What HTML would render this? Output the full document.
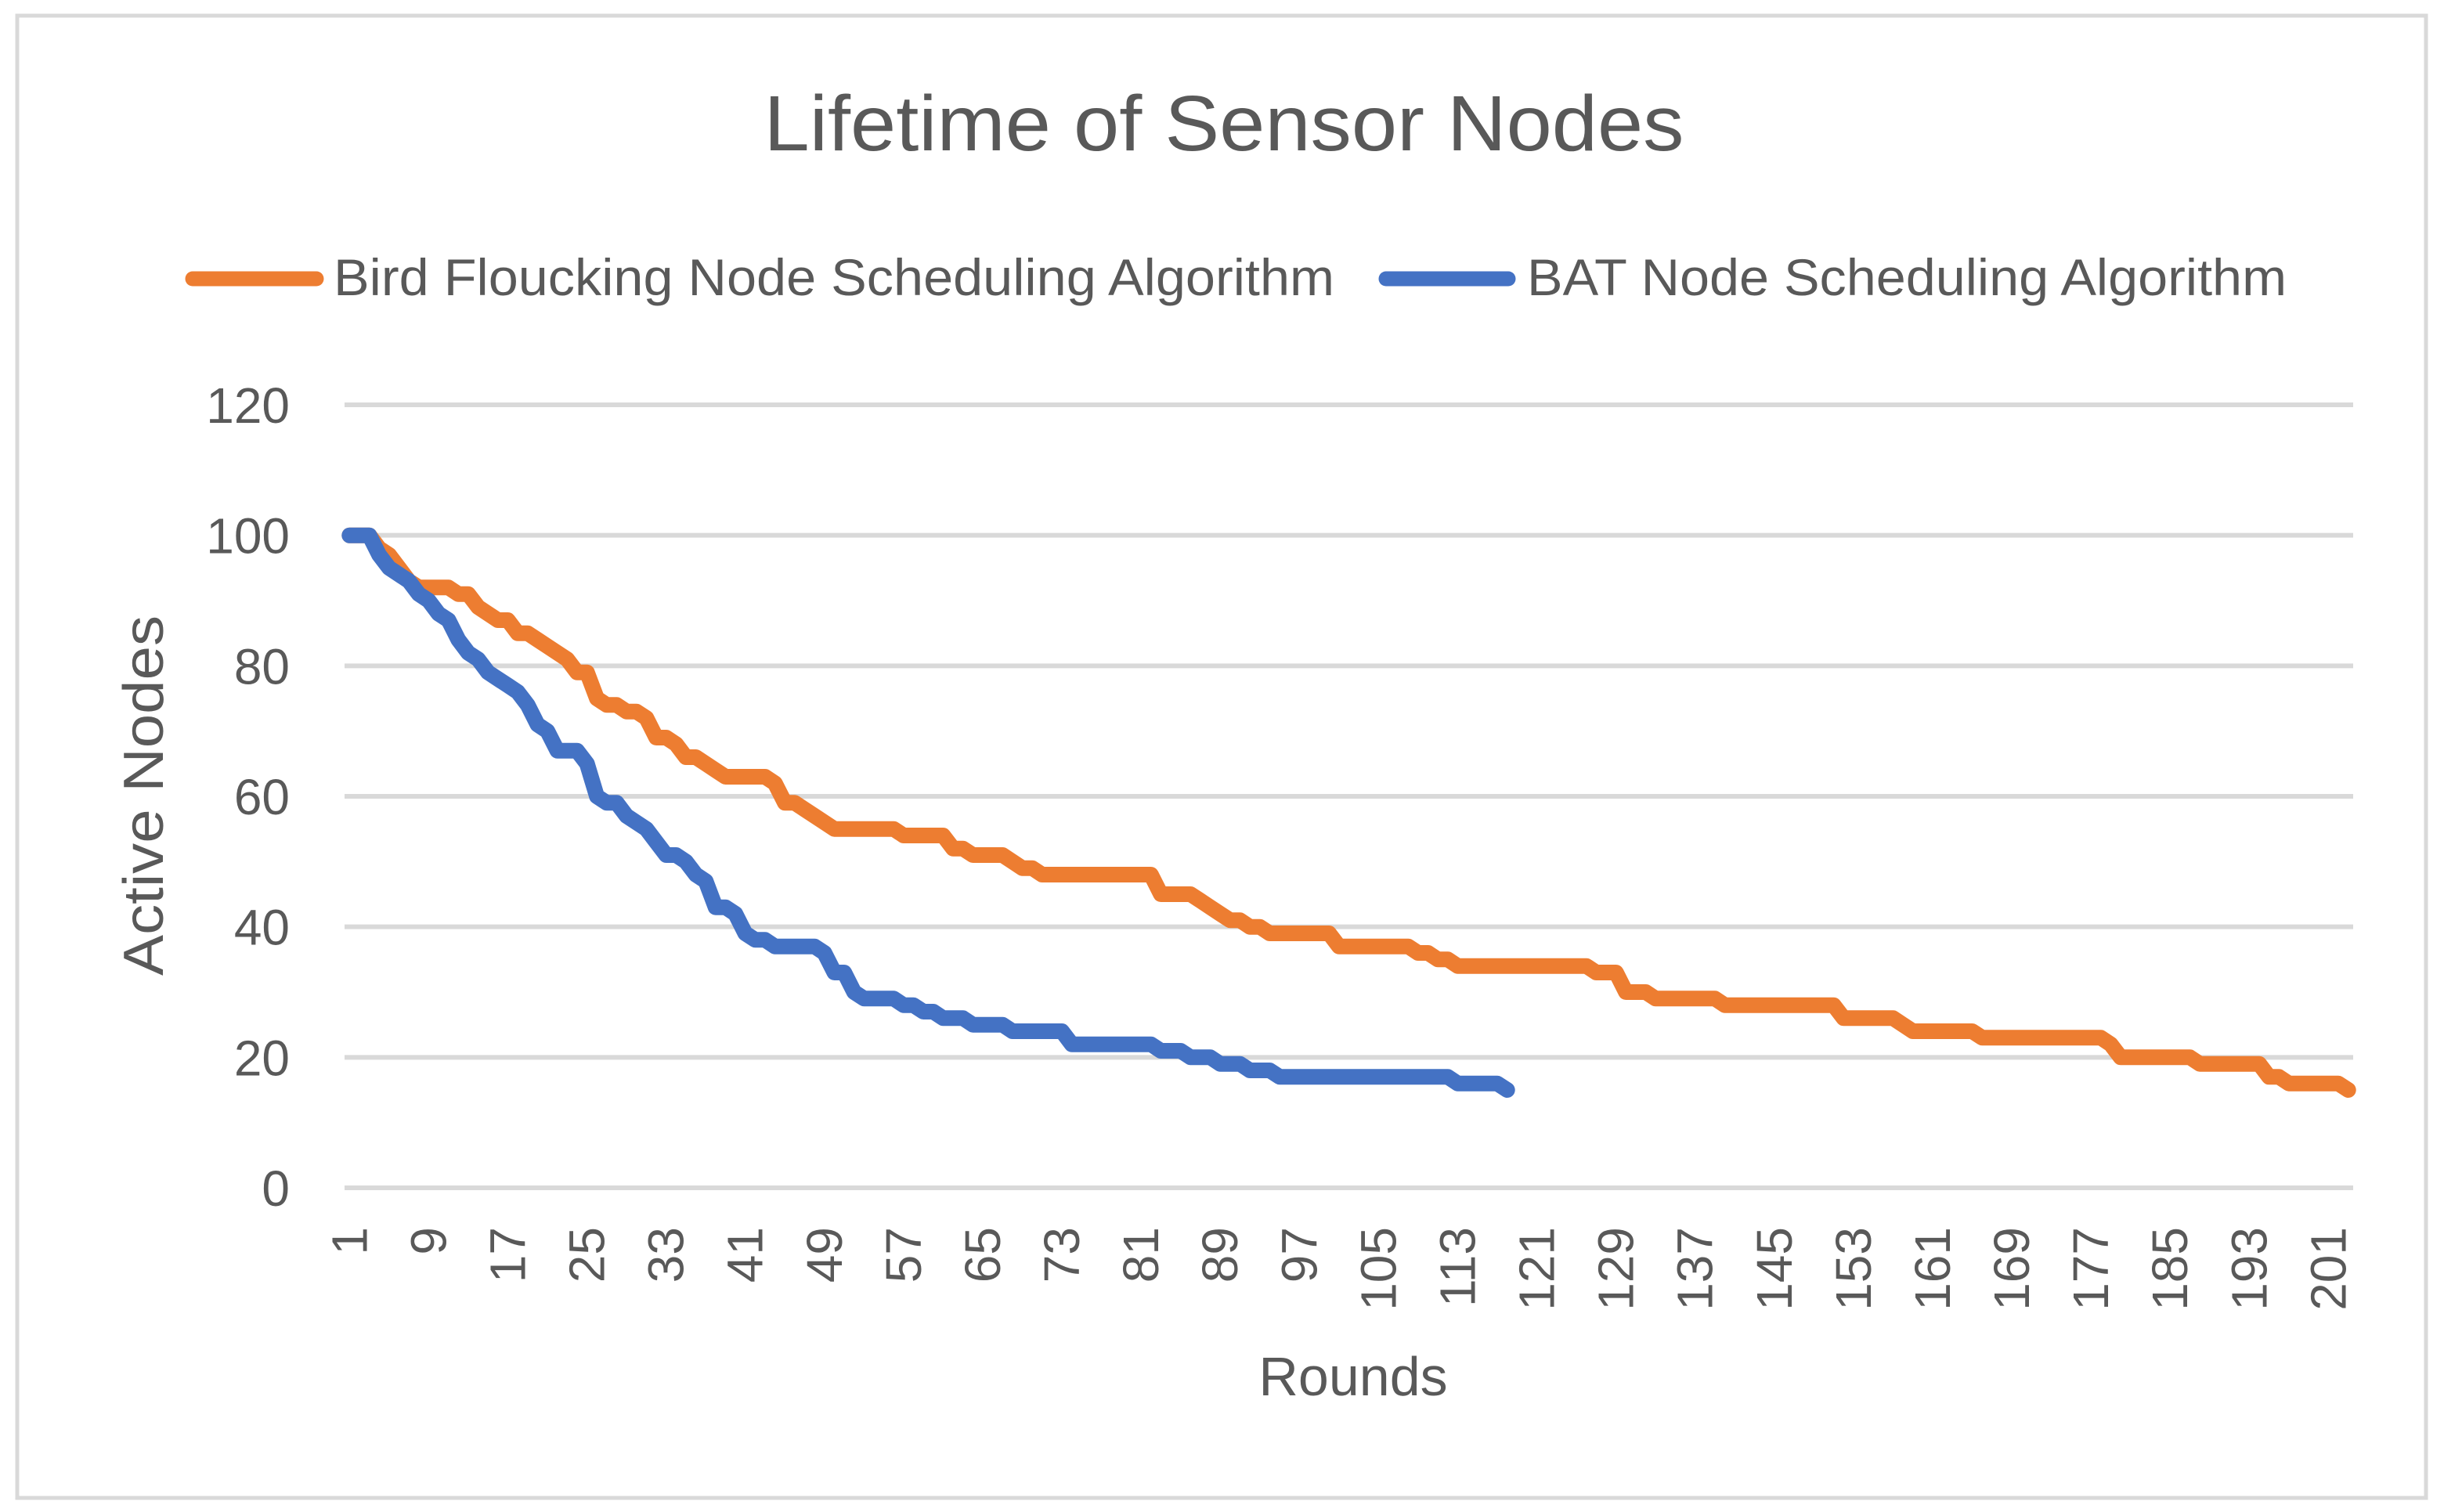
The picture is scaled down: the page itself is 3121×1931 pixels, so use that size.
<!DOCTYPE html>
<html><head><meta charset="utf-8"><style>
html,body{margin:0;padding:0;background:#fff;}
svg{display:block;font-family:"Liberation Sans",sans-serif;}
</style></head><body>
<svg id="chart" width="3121" height="1931" viewBox="0 0 3121 1931" xmlns="http://www.w3.org/2000/svg">
<rect x="22" y="20" width="3076" height="1893" fill="#fff" stroke="#d9d9d9" stroke-width="5"/>
<text x="1563" y="192" font-size="100" fill="#595959" text-anchor="middle" textLength="1175" lengthAdjust="spacingAndGlyphs">Lifetime of Sensor Nodes</text>
<g>
<g>
<line x1="246" y1="356" x2="404" y2="356" stroke="#ed7d31" stroke-width="19" stroke-linecap="round"/>
<text x="426" y="377" font-size="66" fill="#595959" textLength="1278" lengthAdjust="spacingAndGlyphs">Bird Floucking Node Scheduling Algorithm</text>
</g>
<g>
<line x1="1770" y1="356" x2="1926" y2="356" stroke="#4472c4" stroke-width="19" stroke-linecap="round"/>
<text x="1950" y="377" font-size="66" fill="#595959" textLength="970" lengthAdjust="spacingAndGlyphs">BAT Node Scheduling Algorithm</text>
</g>
</g>
<g id="grid"></g>
<g id="yticks"></g>
<g id="xticks"></g>
<g id="series"></g>
<text transform="translate(208,1016) rotate(-90)" font-size="72" fill="#595959" text-anchor="middle" textLength="460" lengthAdjust="spacingAndGlyphs">Active Nodes</text>
<text x="1728" y="1782" font-size="70" fill="#595959" text-anchor="middle">Rounds</text>
</svg>
<script>
const yTicks = [0,20,40,60,80,100,120];
const birdValues = [100,100,100,98,97,95,93,92,92,92,92,91,91,89,88,87,87,85,85,84,83,82,81,79,79,75,74,74,73,73,72,69,69,68,66,66,65,64,63,63,63,63,63,62,59,59,58,57,56,55,55,55,55,55,55,55,54,54,54,54,54,52,52,51,51,51,51,50,49,49,
48,48,48,48,48,48,48,48,48,48,48,48,45,45,45,45,44,43,42,41,41,40,40,39,39,39,39,39,39,39,37,37,37,37,37,37,37,37,36,36,35,35,
34,34,34,34,34,34,34,34,34,34,34,34,34,34,33,33,33,30,30,30,29,29,29,29,29,29,29,28,28,28,28,28,28,28,28,28,28,28,28,
26,26,26,26,26,26,25,24,24,24,24,24,24,24,23,23,23,23,23,23,23,23,23,23,23,23,23,22,20,20,20,20,20,20,20,20,
19,19,19,19,19,19,19,17,17,16,16,16,16,16,16,15];
const batValues = [100,100,100,97,95,94,93,91,90,88,87,84,82,81,79,78,77,76,74,71,70,67,67,67,65,60,59,59,57,56,55,53,51,51,50,48,47,43,43,42,39,38,38,37,37,37,37,37,36,33,33,30,29,29,29,29,28,28,27,27,26,26,26,25,25,25,25,24,24,24,24,24,24,
22,22,22,22,22,22,22,22,22,21,21,21,20,20,20,19,19,19,18,18,18,17,17,17,17,17,17,17,17,17,17,17,17,17,17,17,17,17,17,16,16,16,16,16,15];
const nCategories = 203;
const xLabelStep = 8;

const NS = "http://www.w3.org/2000/svg";
const plotL = 440, plotR = 3005, plotTop = 517, plotBot = 1517, yMax = 120;
const band = (plotR - plotL) / nCategories;
const xScale = i => plotL + band * (i + 0.5);
const yScale = v => plotBot - (v / yMax) * (plotBot - plotTop);

const grid = document.getElementById('grid');
const yt = document.getElementById('yticks');
yTicks.forEach(t => {
  const l = document.createElementNS(NS, 'line');
  l.setAttribute('x1', plotL); l.setAttribute('x2', plotR);
  l.setAttribute('y1', yScale(t)); l.setAttribute('y2', yScale(t));
  l.setAttribute('stroke', '#d9d9d9'); l.setAttribute('stroke-width', '6');
  
  
  grid.appendChild(l);
  const tx = document.createElementNS(NS, 'text');
  tx.setAttribute('x', 370); tx.setAttribute('y', yScale(t) + 23);
  tx.setAttribute('font-size', '64'); tx.setAttribute('fill', '#595959');
  tx.setAttribute('text-anchor', 'end');
  tx.textContent = t;
  
  
  yt.appendChild(tx);
});

const xt = document.getElementById('xticks');
for (let i = 0; i < nCategories; i += xLabelStep) {
  const tx = document.createElementNS(NS, 'text');
  const x = xScale(i) + 22;
  tx.setAttribute('transform', `translate(${x},1567) rotate(-90)`);
  tx.setAttribute('font-size', '64'); tx.setAttribute('fill', '#595959');
  tx.setAttribute('text-anchor', 'end');
  tx.textContent = i + 1;
  
  
  xt.appendChild(tx);
}

const series = document.getElementById('series');
function drawLine(vals, color, name) {
  const p = document.createElementNS(NS, 'polyline');
  p.setAttribute('points', vals.map((v, i) => xScale(i).toFixed(1) + ',' + yScale(v).toFixed(1)).join(' '));
  p.setAttribute('fill', 'none'); p.setAttribute('stroke', color);
  p.setAttribute('stroke-width', '20'); p.setAttribute('stroke-linejoin', 'round');
  p.setAttribute('stroke-linecap', 'round');
  
  
  series.appendChild(p);
}
drawLine(birdValues, '#ed7d31', 'bird-flocking-line');
drawLine(batValues, '#4472c4', 'bat-line');
</script>
</body></html>
